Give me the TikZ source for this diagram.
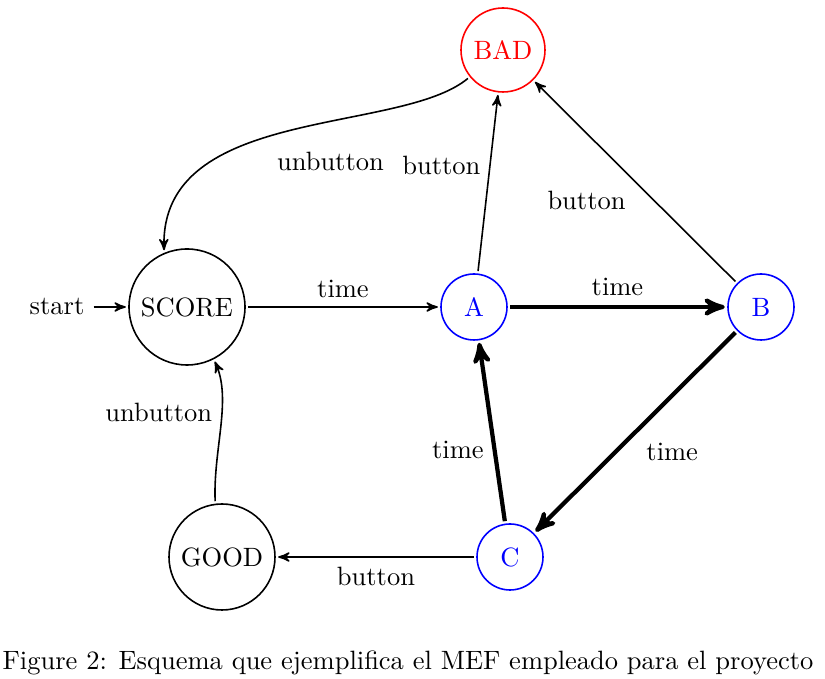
\documentclass[tikz,border=0pt]{standalone}
\usetikzlibrary{arrows}
\begin{document}
\begin{tikzpicture}[x=0.3774pt, y=-0.3774pt, >=stealth',
  statebox/.style={circle, draw, line width=0.6pt, inner sep=0pt, outer sep=1.2pt},
  edgethin/.style={->, line width=0.6pt},
  edgethick/.style={->, line width=1.6pt}]
\useasboundingbox (0,0) rectangle (825,679);
\node[statebox, red, minimum size=84*0.3774pt] (BAD) at (503,50) {BAD};
\node[statebox, minimum size=116*0.3774pt] (SCORE) at (187,307) {SCORE};
\node[statebox, blue, minimum size=66*0.3774pt] (A) at (474,307) {A};
\node[statebox, blue, minimum size=66*0.3774pt] (B) at (761,307) {B};
\node[statebox, blue, minimum size=66*0.3774pt] (C) at (510,557) {C};
\node[statebox, minimum size=106*0.3774pt] (GOOD) at (222,557) {GOOD};
\node (start) at (57,307) {start};
\node (caption) at (408,663) {Figure 2: Esquema que ejemplifica el MEF empleado para el proyecto};

\draw[edgethin] (start) -- (SCORE);
\draw[edgethin] (SCORE) -- node[above] {time} (A);
\draw[edgethick] (A) -- node[above] {time} (B);
\draw[edgethin] (A) -- node[pos=0.6, left] {button} (BAD);
\draw[edgethin] (B) -- node[midway, below left] {button} (BAD);
\draw[edgethick] (B) -- node[midway, below right] {time} (C);
\draw[edgethick] (C) -- node[pos=0.4, left] {time} (A);
\draw[edgethin] (C) -- node[below] {button} (GOOD);
\draw[edgethin] (BAD.219) .. controls (400,135) and (160,105) .. node[pos=0.4, below=8pt] {unbutton} (SCORE.112);
\draw[edgethin] (GOOD.97) .. controls (213,450) and (232,400) .. node[pos=0.6, left] {unbutton} (SCORE.-63);
\end{tikzpicture}
\end{document}
